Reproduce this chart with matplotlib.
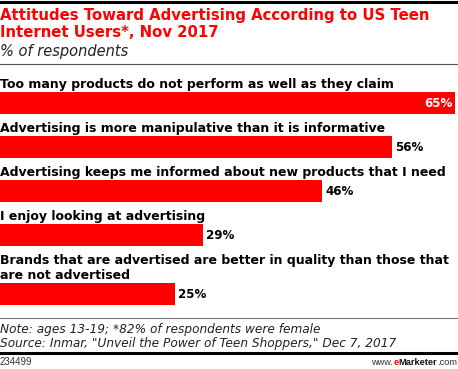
import matplotlib
matplotlib.use("Agg")
import matplotlib.pyplot as plt

# data
categories = [
    "Too many products do not perform as well as they claim",
    "Advertising is more manipulative than it is informative",
    "Advertising keeps me informed about new products that I need",
    "I enjoy looking at advertising",
    "Brands that are advertised are better in quality than those that\nare not advertised",
]
values = [65, 56, 46, 29, 25]

title_lines = ["Attitudes Toward Advertising According to US Teen",
               "Internet Users*, Nov 2017"]
subtitle = "% of respondents"
note = "Note: ages 13-19; *82% of respondents were female"
source = 'Source: Inmar, "Unveil the Power of Teen Shoppers," Dec 7, 2017'
chart_id = "234499"

RED = "#FF0000"
W, H = 458, 369
PX_PER_PCT = 7.0
LABEL_FS = 9.0

fig = plt.figure(figsize=(W / 100, H / 100), dpi=100)
ax = fig.add_axes([0, 0, 1, 1])
ax.set_xlim(0, W / PX_PER_PCT)
ax.set_ylim(H, 0)
ax.axis("off")

# header
ax.axhline(1.5, color="black", lw=2.2)
for i, line in enumerate(title_lines):
    ax.text(0.05, 20 + 17 * i, line, color=RED, fontsize=10.7,
            fontweight="bold", va="baseline", ha="left")
ax.text(0.0, 56, subtitle, fontsize=10.5, style="italic", va="baseline",
        color="#222222")
ax.axhline(63.5, color="#555555", lw=0.8)

# bars
bar_h = 21.5
top = 92
for cat, val in zip(categories, values):
    lines = cat.split("\n")
    top += 15 * (len(lines) - 1)
    for i, line in enumerate(lines):
        ax.text(0.05, top - 4 - 15 * (len(lines) - 1 - i), line,
                fontsize=LABEL_FS, fontweight="bold", va="baseline",
                color="black")
    ax.barh(top + bar_h / 2, val, height=bar_h, color=RED, left=0)
    if val == max(values):
        ax.text(val - 0.3, top + bar_h / 2 + 0.5, f"{val}%", color="white",
                fontsize=8.6, fontweight="bold", ha="right", va="center")
    else:
        ax.text(val + 0.45, top + bar_h / 2 + 0.5, f"{val}%", color="black",
                fontsize=8.6, fontweight="bold", ha="left", va="center")
    top += 44

# footer
ax.axhline(318, color="#777777", lw=0.8)
ax.text(0.0, 333, note, fontsize=8.75, style="italic", va="baseline",
        color="#222222")
ax.text(0.0, 346.5, source, fontsize=8.75, style="italic", va="baseline",
        color="#222222")
ax.axhline(352.5, color="black", lw=2.2)
ax.text(0.0, 365, chart_id, fontsize=7.0, va="baseline", color="#333333",
        family="Liberation Sans")

x_end = W / PX_PER_PCT - 0.15
fig.canvas.draw()
r = fig.canvas.get_renderer()
parts = [("www.", "#333333", "normal"), ("e", RED, "bold"),
         ("Marketer", "#111111", "bold"), (".com", "#333333", "normal")]
x = x_end
for txt, col, wt in reversed(parts):
    t = ax.text(x, 365, txt, fontsize=6.7, fontweight=wt, va="baseline",
                ha="right", color=col, family="Liberation Sans")
    x = t.get_window_extent(r).x0 / PX_PER_PCT

fig.savefig("out.png", dpi=100)
